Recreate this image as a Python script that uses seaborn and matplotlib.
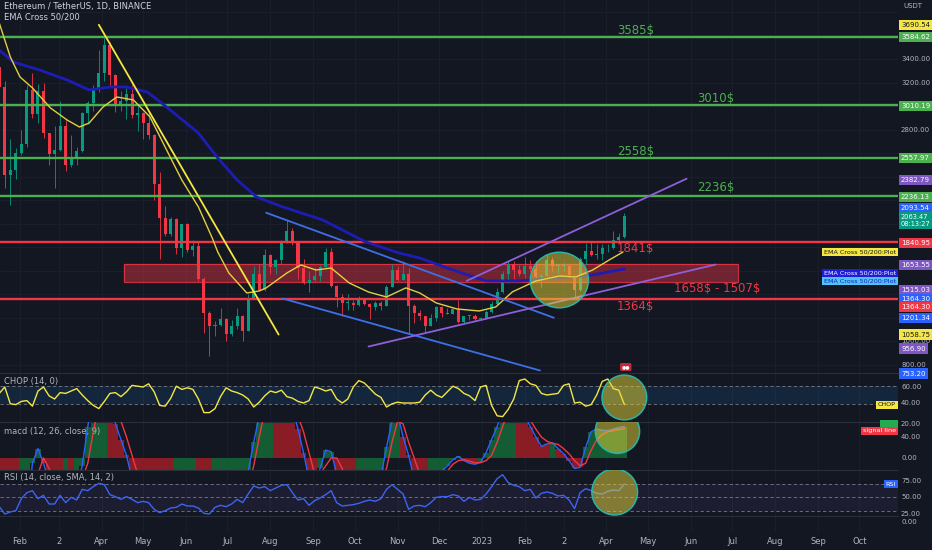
import numpy as np
import pandas as pd
import matplotlib
matplotlib.use("Agg")
import matplotlib.pyplot as plt
import matplotlib.transforms as mtransforms
from matplotlib.patches import Ellipse, Rectangle
import seaborn as sns

# ---- data ----
# 4-day candles, first one centred on 2022-01-17
first_candle = '2022-01-17'
first_open = 3330
closes = [3165, 2410, 2460, 2600, 2680, 3140, 2930, 3130, 2770, 2590,
          2630, 2830, 2500, 2560, 2620, 2945, 3030, 3135, 3280, 3520,
          3260, 3000, 3040, 3100, 2920, 2940, 2860, 2750, 2340, 2050,
          1910, 2040, 1790, 1995, 1780, 1810, 1530, 1240, 1130, 1140,
          1195, 1060, 1135, 1215, 1090, 1360, 1575, 1440, 1735, 1635,
          1690, 1850, 1940, 1840, 1625, 1495, 1525, 1555, 1630, 1760,
          1475, 1375, 1330, 1330, 1310, 1350, 1320, 1290, 1330, 1300,
          1460, 1610, 1520, 1570, 1300, 1240, 1215, 1135, 1200, 1295,
          1245, 1230, 1275, 1165, 1215, 1220, 1190, 1200, 1250, 1320,
          1420, 1570, 1660, 1610, 1570, 1640, 1615, 1545, 1555, 1690,
          1640, 1640, 1645, 1565, 1435, 1700, 1770, 1735, 1740, 1790,
          1795, 1865, 1890, 2063]
highs = [3370, 3210, 2720, 2640, 2800, 3180, 3280, 3190, 3200, 2770,
         2830, 3040, 2880, 2750, 2650, 2950, 3040, 3180, 3480, 3580,
         3540, 3270, 3130, 3150, 3190, 3020, 2950, 2960, 2760, 2440,
         2150, 2060, 2050, 2000, 2010, 1860, 1850, 1550, 1260, 1170,
         1280, 1200, 1180, 1280, 1225, 1400, 1640, 1660, 1785, 1740,
         1700, 1860, 2030, 1960, 1850, 1700, 1600, 1620, 1650, 1790,
         1790, 1480, 1400, 1400, 1355, 1390, 1370, 1330, 1340, 1340,
         1480, 1660, 1640, 1680, 1620, 1320, 1270, 1215, 1230, 1300,
         1300, 1280, 1285, 1350, 1220, 1225, 1230, 1205, 1265, 1340,
         1450, 1600, 1680, 1680, 1650, 1720, 1690, 1680, 1570, 1740,
         1720, 1660, 1670, 1650, 1570, 1720, 1840, 1850, 1830, 1830,
         1830, 1940, 1920, 2094]
lows = [3140, 2300, 2160, 2380, 2580, 2650, 2900, 2860, 2730, 2500,
        2300, 2620, 2450, 2480, 2500, 2610, 2850, 2960, 3120, 3210,
        3170, 2950, 2960, 2890, 2900, 2790, 2720, 2720, 2200, 1700,
        1900, 1900, 1740, 1720, 1760, 1730, 1510, 1070, 880, 1050,
        1130, 1000, 1050, 1110, 1005, 1090, 1360, 1430, 1430, 1575,
        1570, 1660, 1840, 1820, 1530, 1490, 1420, 1510, 1510, 1620,
        1460, 1290, 1220, 1270, 1270, 1300, 1310, 1190, 1270, 1270,
        1300, 1460, 1510, 1520, 1075, 1160, 1180, 1075, 1130, 1170,
        1210, 1230, 1230, 1160, 1150, 1185, 1185, 1185, 1190, 1245,
        1310, 1410, 1500, 1530, 1560, 1540, 1600, 1520, 1460, 1550,
        1600, 1580, 1600, 1545, 1370, 1430, 1650, 1730, 1700, 1690,
        1760, 1785, 1845, 1880]

ema50_dates = ['2022-01-17', '2022-01-25', '2022-02-01', '2022-02-10', '2022-02-23', '2022-03-07',
               '2022-03-16', '2022-03-23', '2022-04-02', '2022-04-12', '2022-04-24', '2022-05-06',
               '2022-05-18', '2022-05-29', '2022-06-10', '2022-06-20', '2022-06-24', '2022-07-02',
               '2022-07-15', '2022-07-24', '2022-07-29', '2022-08-13', '2022-08-23', '2022-09-03',
               '2022-09-14', '2022-09-27', '2022-10-11', '2022-10-24', '2022-11-07', '2022-11-17',
               '2022-11-29', '2022-12-14', '2022-12-30', '2023-01-11', '2023-01-23', '2023-02-09',
               '2023-02-26', '2023-03-10', '2023-03-22', '2023-04-03', '2023-04-13']
ema50_vals = [3706, 3417, 3247, 3154, 2984, 2882, 2822, 2856, 2992, 3077, 3052, 2907, 2627, 2372,
              2143, 1879, 1760, 1582, 1412, 1429, 1455, 1582, 1650, 1607, 1624, 1497, 1420, 1378,
              1455, 1412, 1327, 1276, 1259, 1293, 1421, 1514, 1556, 1548, 1607, 1692, 1760]
ema200_dates = ['2022-01-17', '2022-01-27', '2022-02-15', '2022-03-07', '2022-03-23', '2022-04-07',
                '2022-04-19', '2022-05-04', '2022-05-18', '2022-06-10', '2022-06-24', '2022-07-08',
                '2022-07-22', '2022-08-10', '2022-09-08', '2022-10-09', '2022-11-02', '2022-11-17',
                '2022-12-11', '2023-01-04', '2023-01-28', '2023-02-21', '2023-03-18', '2023-04-14']
ema200_vals = [3476, 3375, 3307, 3222, 3137, 3162, 3162, 3120, 2992, 2771, 2559, 2372,
               2228, 2143, 2032, 1845, 1752, 1709, 1607, 1514, 1514, 1539, 1556, 1616]

chop = [52, 60, 39, 38, 42, 43, 36, 55, 60, 49, 45, 53, 52, 55, 58, 50, 43, 37, 33, 42,
        52, 53, 48, 54, 62, 61, 60, 64, 54, 37, 36, 46, 61, 57, 59, 57, 45, 28, 28, 33,
        48, 59, 55, 53, 50, 45, 35, 41, 49, 55, 53, 56, 48, 46, 42, 40, 43, 60, 58, 55,
        57, 45, 40, 45, 60, 68, 65, 58, 51, 47, 35, 39, 41, 40, 40, 40, 41, 50, 56, 50,
        47, 54, 61, 58, 52, 49, 43, 60, 62, 37, 24, 23, 32, 45, 68, 70, 64, 62, 52, 50,
        51, 52, 62, 64, 40, 41, 36, 38, 50, 67, 70, 58, 56, 38]
macd = [-210, -230, -240, -215, -170, -110, -10, 18, -10, -45, -70, -65, -60, -75, -55, -15, 60, 120, 160, 175,
        130, 65, 35, 5, -40, -60, -70, -80, -140, -220, -250, -240, -220, -200, -160, -130, -150, -200, -240, -220,
        -170, -130, -110, -80, -70, -25, 30, 80, 110, 125, 115, 110, 105, 95, 55, 10, -40, -45, -20, 15,
        12, -30, -60, -75, -70, -60, -50, -45, -40, -35, 20, 70, 85, 40, 5, -40, -55, -60, -50, -35,
        -25, -15, -3, 3, -5, -10, -12, -8, 10, 35, 60, 90, 100, 98, 95, 80, 60, 40, 22, 27,
        29, 18, 8, -5, -20, -18, 20, 50, 55, 53, 52, 55, 58, 60]
signal = [-150, -180, -200, -210, -205, -150, -90, -30, 0, -20, -45, -60, -62, -65, -60, -40, -10, 50, 100, 140,
          145, 110, 70, 40, 5, -30, -55, -65, -95, -150, -200, -225, -225, -210, -185, -150, -145, -170, -210, -225,
          -200, -160, -130, -100, -80, -55, -15, 40, 90, 115, 118, 112, 108, 100, 80, 50, 10, -30, -30, -15,
          0, 0, -20, -50, -65, -62, -55, -50, -45, -40, -20, 30, 70, 65, 30, 0, -30, -50, -52, -45,
          -35, -25, -12, -5, -3, -6, -9, -9, -5, 5, 30, 60, 90, 98, 97, 88, 72, 55, 40, 32,
          28, 26, 18, 8, -5, -15, -10, 15, 35, 45, 50, 52, 54, 56]
rsi = [36, 25, 28, 30, 48, 57, 60, 48, 53, 40, 40, 53, 42, 50, 46, 62, 60, 66, 71, 69,
       54, 51, 47, 51, 47, 42, 44, 42, 32, 27, 30, 34, 35, 40, 37, 37, 34, 26, 25, 35,
       38, 36, 40, 47, 42, 55, 67, 64, 66, 60, 64, 68, 69, 57, 46, 48, 38, 45, 49, 54,
       60, 42, 37, 38, 39, 41, 44, 46, 44, 48, 62, 69, 62, 55, 32, 37, 38, 36, 42, 50,
       51, 51, 54, 52, 44, 50, 46, 47, 55, 66, 78, 84, 72, 68, 66, 60, 62, 49, 56, 58,
       56, 52, 53, 46, 33, 57, 63, 60, 56, 55, 59, 61, 60, 70]

green_levels = [3584.62, 3010.19, 2557.97, 2236.13]
red_levels = [1840.95, 1364.30]
zone_low, zone_high = 1507, 1658
zone_from, zone_to = '2022-04-17', '2023-07-05'

# trend lines drawn on the chart: start date, start price, end date, end price
trend_lines = [('2022-03-30', 3690.54, '2022-08-07', 1058.75, '#f5e642'),
               ('2022-07-29', 2093.54, '2023-02-22', 1201.34, '#3f6fe8'),
               ('2022-08-10', 1364.30, '2023-02-12', 753.20, '#3f6fe8'),
               ('2022-12-21', 1515.03, '2023-05-29', 2382.79, '#8f5fd8'),
               ('2022-10-11', 956.90, '2023-06-19', 1653.55, '#8f5fd8')]

level_notes = [('3585$', '2023-04-22', 3638, '#4caf50'),
               ('3010$', '2023-06-19', 3068, '#4caf50'),
               ('2558$', '2023-04-22', 2610, '#4caf50'),
               ('2236$', '2023-06-19', 2304, '#4caf50'),
               ('1841$', '2023-04-22', 1786, '#f23645'),
               ('1658$ - 1507$', '2023-06-20', 1454, '#f23645'),
               ('1364$', '2023-04-22', 1301, '#f23645')]

# price boxes on the right scale: value, colour, text colour, shift in px
price_tags = [(3690.54, '#f5e642', '#131722', 0), (3584.62, '#4caf50', 'white', 0),
              (3010.19, '#4caf50', 'white', 1), (2557.97, '#4caf50', 'white', 0),
              (2382.79, '#7e57c2', 'white', 1), (2236.13, '#4caf50', 'white', 1),
              (2093.54, '#2962ff', 'white', -4.5), (1840.95, '#f23645', 'white', 0.5),
              (1653.55, '#7e57c2', 'white', 0.5), (1515.03, '#7e57c2', 'white', 9),
              (1364.30, '#2962ff', 'white', 0.5), (1364.30, '#f23645', 'white', 8.5),
              (1201.34, '#2962ff', 'white', 0), (1058.75, '#f5e642', '#131722', 0),
              (956.90, '#7e57c2', 'white', 2), (753.20, '#2962ff', 'white', 3)]
last_price, countdown = 2063.47, '08:13:27'

month_ticks = ['2022-02-01', '2022-03-01', '2022-04-01', '2022-05-01', '2022-06-01', '2022-07-01',
               '2022-08-01', '2022-09-01', '2022-10-01', '2022-11-01', '2022-12-01', '2023-01-01',
               '2023-02-01', '2023-03-01', '2023-04-01', '2023-05-01', '2023-06-01', '2023-07-01',
               '2023-08-01', '2023-09-01', '2023-10-01']
month_labels = ['Feb', '2', 'Apr', 'May', 'Jun', 'Jul', 'Aug', 'Sep', 'Oct', 'Nov', 'Dec', '2023',
                'Feb', '2', 'Apr', 'May', 'Jun', 'Jul', 'Aug', 'Sep', 'Oct']

# ---- look ----
BG = '#131722'
TXT = '#b2b5be'
GRID = '#1b1f2b'
UP, DN = '#089981', '#f23645'
W, H, PW = 932, 550, 898
XMIN, XMAX = -14.46, 634.85
YMIN, YMAX = 732, 3901
PPX = (YMAX - YMIN) / 373  # price per pixel in the main pane
base = pd.Timestamp('2022-02-01')


def to_day(d):
    return np.asarray((pd.to_datetime(d) - base) / pd.Timedelta(days=1), dtype=float)


sns.set_style('dark', {'axes.facecolor': BG, 'figure.facecolor': BG})
plt.rcParams['font.family'] = ['DejaVu Sans']

fig = plt.figure(figsize=(W / 100, H / 100), dpi=100)
fig.patch.set_facecolor(BG)


def pane(top, bottom, ylim):
    ax = fig.add_axes([0, 1 - bottom / H, PW / W, (bottom - top) / H])
    ax.set_facecolor(BG)
    for s in ax.spines.values():
        s.set_visible(False)
    ax.spines['top'].set_visible(True)
    ax.spines['top'].set_color('#2a2e39')
    ax.set_xlim(XMIN, XMAX)
    ax.set_ylim(*ylim)
    ax.set_xticks([])
    ax.set_yticks([])
    for m in to_day(month_ticks):
        ax.axvline(m, color=GRID, lw=0.7, zorder=0)
    return ax


def scale_label(ax, y, text, fc=None, tc=TXT, z=5, dy=0.0, size=5.0):
    tr = mtransforms.blended_transform_factory(ax.transAxes, ax.transData)
    tr = tr + mtransforms.ScaledTranslation(0, -dy / 100, fig.dpi_scale_trans)
    kw = dict(transform=tr, fontsize=size, color=tc, va='center', ha='left', clip_on=False, zorder=z)
    if fc:
        kw['bbox'] = dict(boxstyle='square,pad=0.3', fc=fc, ec='none')
    ax.text(1 + 3 / PW, y, text, **kw)


def left_tag(ax, y, text, fc, tc, dy=0.0):
    tr = mtransforms.blended_transform_factory(ax.transAxes, ax.transData)
    tr = tr + mtransforms.ScaledTranslation(0, -dy / 100, fig.dpi_scale_trans)
    ax.text(1 - 2 / PW, y, text, transform=tr, fontsize=4.6, color=tc, ha='right', va='center',
            clip_on=False, zorder=9, bbox=dict(boxstyle='square,pad=0.25', fc=fc, ec='none'))


cx = to_day(first_candle) + 4 * np.arange(len(closes))

# ---- main price pane ----
ax = pane(0, 373, (YMIN, YMAX))
ax.spines['top'].set_visible(False)
tag_spots = [v - dy * PPX for v, _, _, dy in price_tags] + [last_price - 4 * PPX, YMAX - 6 * PPX]
for p in range(800, 3801, 200):
    ax.axhline(p, color=GRID, lw=0.7, zorder=0)
    if min(abs(p - t) for t in tag_spots) > 6 * PPX:
        scale_label(ax, p, f'{p:.2f}', z=2)

o = np.array([first_open] + closes[:-1], dtype=float)
c = np.array(closes, dtype=float)
col = np.where(c >= o, UP, DN)
ax.vlines(cx, lows, highs, colors=col, lw=0.6, zorder=3)
ax.bar(cx, np.maximum(np.abs(c - o), 8), bottom=np.minimum(o, c), width=2.2, color=col, lw=0, zorder=4)

ax.add_patch(Rectangle((to_day(zone_from), zone_low), to_day(zone_to) - to_day(zone_from),
                       zone_high - zone_low, fc='#f23645', alpha=0.42, lw=0, zorder=2))
ax.add_patch(Rectangle((to_day(zone_from), zone_low), to_day(zone_to) - to_day(zone_from),
                       zone_high - zone_low, fill=False, ec='#f23645', alpha=0.8, lw=0.9, zorder=2))
for lv in green_levels:
    ax.axhline(lv, color='#4caf50', lw=1.7, zorder=5)
for lv in red_levels:
    ax.axhline(lv, color='#f23645', lw=1.7, zorder=5)

sns.lineplot(x=to_day(ema200_dates), y=ema200_vals, ax=ax, color='#1d1db5', lw=2.0, zorder=6)
sns.lineplot(x=to_day(ema50_dates), y=ema50_vals, ax=ax, color='#e3cf3f', lw=1.0, zorder=6)
for d0, p0, d1, p1, colr in trend_lines:
    ax.plot(to_day([d0, d1]), [p0, p1], color=colr, lw=1.3, zorder=7)

ax.add_patch(Ellipse((to_day('2023-02-26'), 1522), 42, 472, fc='#e8d838', alpha=0.5, ec='none', zorder=8))
ax.add_patch(Ellipse((to_day('2023-02-26'), 1522), 42, 472, fill=False, ec='#2bb3a6', lw=1.1, zorder=8))

for txt, d, p, colr in level_notes:
    ax.text(to_day(d), p, txt, color=colr, fontsize=8.5, ha='center', va='center', zorder=9,
            parse_math=False)

ax.text(to_day('2023-04-15'), 783, '●●', color='white', fontsize=3.5, ha='center', va='center', zorder=9,
        bbox=dict(boxstyle='round,pad=0.3', fc='#c62838', ec='none'))

for v, fc, tc, dy in price_tags:
    scale_label(ax, v, f'{v:.2f}', fc=fc, tc=tc, z=6, dy=dy)
scale_label(ax, last_price, f'{last_price:.2f}\n{countdown}', fc='#089981', tc='white', z=7, dy=4,
            size=4.8)

left_tag(ax, ema50_vals[-1], 'EMA Cross 50/200:Plot', '#f5e642', '#131722')
left_tag(ax, 1582, 'EMA Cross 50/200:Plot', '#1d1ddb', 'white')
left_tag(ax, 1514, 'EMA Cross 50/200:Plot', '#4fc3f7', '#1d1db5')

fig.text(4 / W, 1 - 7 / H, 'Ethereum / TetherUS, 1D, BINANCE', color='#d1d4dc', fontsize=6, va='center')
fig.text(4 / W, 1 - 17 / H, 'EMA Cross 50/200', color='#d1d4dc', fontsize=6, va='center')
fig.text(903 / W, 1 - 6 / H, 'USDT', color=TXT, fontsize=5.0, va='center', zorder=10)

# ---- CHOP ----
ax1 = pane(373, 422, (16.25, 77.5))
ax1.axhspan(38.2, 61.8, color='#2196f3', alpha=0.12, lw=0)
for lv in (61.8, 38.2):
    ax1.axhline(lv, color='#787b86', lw=0.6, ls=(0, (4, 3)))
sns.lineplot(x=cx, y=chop, ax=ax1, color='#f5e642', lw=1.0, zorder=4)
ax1.add_patch(Ellipse((to_day('2023-04-14'), 46.9), 32.3, 56, fc='#e8d838', alpha=0.5, ec='none', zorder=5))
ax1.add_patch(Ellipse((to_day('2023-04-14'), 46.9), 32.3, 56, fill=False, ec='#2bb3a6', lw=1.1, zorder=5))
for v in (60, 40):
    scale_label(ax1, v, f'{v:.2f}')
left_tag(ax1, chop[-1], 'CHOP', '#f5e642', '#131722')
ax1.text(4 / PW, 0.82, 'CHOP (14, 0)', transform=ax1.transAxes, color=TXT, fontsize=6, va='center')

# ---- MACD ----
ax2 = pane(422, 470, (-22.9, 68.6))
m = np.array(macd)
s = np.array(signal)
ax2.bar(cx, m, width=4, color=np.where(m >= s, '#145c34', '#8a1c25'), lw=0, zorder=2)
sns.lineplot(x=cx, y=macd, ax=ax2, color='#2962ff', lw=1.0, zorder=4)
sns.lineplot(x=cx, y=signal, ax=ax2, color='#f23645', lw=1.0, zorder=4)
ax2.add_patch(Ellipse((to_day('2023-04-09'), 50.9), 32, 84, fc='#e8d838', alpha=0.5, ec='none', zorder=5))
ax2.add_patch(Ellipse((to_day('2023-04-09'), 50.9), 32, 84, fill=False, ec='#2bb3a6', lw=1.1, zorder=5))
scale_label(ax2, 64, '20.00')
for v in (40, 0):
    scale_label(ax2, v, f'{v:.2f}')
left_tag(ax2, macd[-1], '       ', '#22ab50', 'white', dy=-2)
left_tag(ax2, signal[-1], 'signal line', '#f23645', 'white', dy=2)
ax2.text(4 / PW, 0.8, 'macd (12, 26, close, 9)', transform=ax2.transAxes, color=TXT, fontsize=6, va='center')

# ---- RSI ----
ax3 = pane(470, 516, (22, 91))
ax3.axhspan(30, 70, color='#7e57c2', alpha=0.1, lw=0)
for lv in (70, 50, 30):
    ax3.axhline(lv, color='#787b86', lw=0.6, ls=(0, (4, 3)))
sns.lineplot(x=cx, y=rsi, ax=ax3, color='#3d64f0', lw=1.0, zorder=4)
ax3.add_patch(Ellipse((to_day('2023-04-07'), 58), 33, 69, fc='#e8d838', alpha=0.5, ec='none', zorder=5))
ax3.add_patch(Ellipse((to_day('2023-04-07'), 58), 33, 69, fill=False, ec='#2bb3a6', lw=1.1, zorder=5))
for v in (75, 50, 25):
    scale_label(ax3, v, f'{v:.2f}')
left_tag(ax3, rsi[-1], 'RSI', '#2962ff', 'white')
ax3.text(4 / PW, 0.84, 'RSI (14, close, SMA, 14, 2)', transform=ax3.transAxes, color=TXT, fontsize=6, va='center')

# ---- empty bottom pane and time scale ----
ax4 = pane(516, 532, (-1, 1))
scale_label(ax4, 0.2, '0.00')
tr = mtransforms.blended_transform_factory(ax4.transData, fig.transFigure)
for d, lab in zip(to_day(month_ticks), month_labels):
    ax4.text(d, 1 - 541 / H, lab, transform=tr, color=TXT, fontsize=6, ha='center', va='center', clip_on=False)

fig.savefig('out.png', dpi=100, facecolor=BG)
